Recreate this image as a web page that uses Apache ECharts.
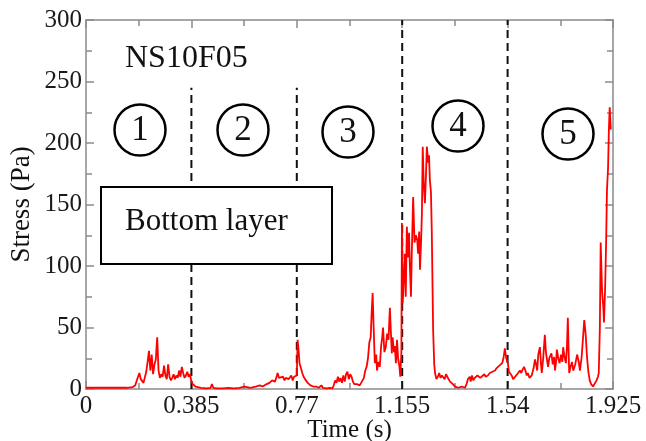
<!DOCTYPE html>
<html>
<head>
<meta charset="utf-8">
<script src="https://cdn.jsdelivr.net/npm/echarts@6/dist/echarts.min.js"></script>
<style>
html,body{margin:0;padding:0;background:#fff;}
#chart{width:646px;height:441px;}
</style>
</head>
<body>
<div id="chart"></div>
<script>
// ---- data ----
const xTickLabels = ['0', '0.385', '0.77', '1.155', '1.54', '1.925'];
const yTickLabels = ['0', '50', '100', '150', '200', '250', '300'];
const phaseBounds = [0.385, 0.77, 1.155, 1.54];
const phaseTops = [245, 245, 300, 300];
const phaseLabels = ['1', '2', '3', '4', '5'];
const sampleName = 'NS10F05';
const layerName = 'Bottom layer';

const time = [
  0, 0.05, 0.10, 0.15, 0.17, 0.18, 0.19, 0.195, 0.20, 0.21, 0.215, 0.22, 0.225, 0.23, 0.235, 0.24, 0.245, 0.25, 0.255, 0.26,
  0.265, 0.27, 0.275, 0.28, 0.285, 0.29, 0.295, 0.30, 0.305, 0.31, 0.315, 0.32, 0.325, 0.33, 0.335, 0.34, 0.345, 0.35, 0.355, 0.36,
  0.365, 0.37, 0.375, 0.38, 0.385,
  0.39, 0.40, 0.42, 0.44, 0.455, 0.46, 0.465, 0.48, 0.50, 0.52, 0.54, 0.56, 0.58, 0.60, 0.62, 0.635, 0.645, 0.66, 0.67, 0.68,
  0.69, 0.695, 0.70, 0.705, 0.71, 0.72, 0.725, 0.73, 0.74, 0.75, 0.755, 0.76, 0.765, 0.77,
  0.773, 0.776, 0.78, 0.785, 0.79, 0.795, 0.80, 0.805, 0.81, 0.82, 0.825, 0.83, 0.835, 0.84, 0.845, 0.85, 0.86, 0.865, 0.87, 0.88,
  0.89, 0.90, 0.905, 0.91, 0.915, 0.92, 0.925, 0.93, 0.935, 0.94, 0.945, 0.95, 0.955, 0.96, 0.965, 0.97, 0.975, 0.98, 0.985, 0.99,
  1.0, 1.005, 1.01, 1.015, 1.02, 1.025, 1.03, 1.035, 1.04, 1.043, 1.047, 1.05, 1.055, 1.06, 1.063, 1.068, 1.073, 1.078, 1.082, 1.085,
  1.09, 1.095, 1.1, 1.105, 1.11, 1.113, 1.117, 1.12, 1.125, 1.128, 1.132, 1.136, 1.14, 1.145, 1.148, 1.152,
  1.154, 1.157, 1.16, 1.165, 1.168, 1.172, 1.176, 1.18, 1.183, 1.187, 1.19, 1.195, 1.2, 1.205, 1.21, 1.213, 1.217, 1.22, 1.224, 1.227,
  1.23, 1.234, 1.238, 1.242, 1.245, 1.25, 1.253, 1.256, 1.26, 1.263, 1.268, 1.272, 1.275, 1.28, 1.285, 1.29, 1.295, 1.3, 1.31, 1.315,
  1.322, 1.33, 1.34, 1.348, 1.355, 1.36, 1.365, 1.373, 1.38, 1.384, 1.39, 1.395, 1.402, 1.405, 1.41, 1.415, 1.42, 1.43, 1.44, 1.446,
  1.455, 1.46, 1.468, 1.475, 1.48, 1.494, 1.50, 1.51, 1.52, 1.525, 1.53, 1.535, 1.541, 1.545,
  1.548, 1.555, 1.56, 1.567, 1.575, 1.58, 1.585, 1.59, 1.595, 1.6, 1.605, 1.61, 1.614, 1.62, 1.628, 1.635, 1.64, 1.645, 1.648, 1.652,
  1.658, 1.662, 1.665, 1.67, 1.676, 1.68, 1.685, 1.688, 1.692, 1.7, 1.705, 1.71, 1.713, 1.717, 1.72, 1.725, 1.73, 1.735, 1.74, 1.743,
  1.748, 1.753, 1.757, 1.76, 1.763, 1.765, 1.77, 1.775, 1.78, 1.787, 1.794, 1.8, 1.804, 1.81, 1.815, 1.82, 1.825, 1.83, 1.835, 1.84,
  1.845, 1.852, 1.858, 1.865, 1.87, 1.873, 1.877, 1.88, 1.885, 1.89, 1.892, 1.896, 1.9, 1.903, 1.907, 1.91, 1.913, 1.917
];
const stress = [
  1, 1, 1, 1, 1.5, 3, 10, 13, 8, 5, 6, 14, 22, 31, 15, 28, 12, 20, 24, 42,
  15, 9, 12, 10, 19, 11, 8, 20, 10, 7, 9, 12, 8, 11, 9, 15, 10, 18, 13, 9,
  11, 14, 10, 12, 6,
  4, 2, 1, 0.5, 1, 4, 1, 0.5, 0.5, 1, 0.5, 1, 2, 1, 2, 3, 2, 4, 5, 7,
  6, 9, 13, 9, 8, 10, 7, 9, 8, 11, 7, 10, 9, 11,
  40, 33, 21, 17, 13, 10, 8, 7, 5, 3, 4, 2, 1, 2, 3, 1, 3, 1, 0.5, 0.5,
  1, 0.5, 3, 7, 5, 10, 6, 9, 5, 11, 6, 12, 14, 8, 12, 10, 6, 4, 3, 4,
  3, 5, 7, 9, 15, 18, 25, 38, 42, 60, 78, 55, 21, 28, 15, 22, 18, 35, 42, 50,
  30, 34, 45, 40, 66, 50, 29, 42, 30, 35, 21, 40, 25, 18, 10, 30,
  135, 70, 85, 110, 75, 132, 107, 127, 100, 75, 110, 156, 119, 125, 121, 110, 128, 97, 120, 143,
  197, 165, 151, 175, 197, 184, 190, 170, 160, 129, 48, 20, 13, 8, 10, 13, 9, 11, 8, 12,
  9, 6, 4, 2, 3, 1, 2, 2, 0.5, 1, 4, 8, 10, 6, 11, 7, 9, 11, 9, 10,
  12, 10, 11, 13, 12, 15, 17, 19, 21, 25, 33, 25, 21, 14,
  13, 11, 8, 9, 12, 11, 15, 13, 16, 18, 15, 11, 13, 9, 11, 17, 24, 19, 15, 28,
  34, 20, 13, 25, 44, 30, 22, 18, 25, 29, 20, 26, 15, 22, 32, 25, 21, 28, 22, 34,
  26, 21, 35, 58, 30, 13, 18, 22, 15, 20, 28, 22, 15, 25, 40, 56, 45, 26, 14, 7,
  4, 2, 3, 7, 10, 13, 50, 119, 80, 65, 54, 80, 121, 162, 180, 211, 229, 211
];

// ---- chart ----
const FONT = "'Liberation Serif', 'Times New Roman', serif";
const AXIS_GRAY = '#8a8a8a';
const grid = { left: 86, right: 33, top: 20, bottom: 52, containLabel: false, outerBoundsMode: 'none' };

const lineData = time.map((t, i) => [t, stress[i]]);

const dashedSeries = phaseBounds.map((b, i) => ({
  type: 'line',
  xAxisIndex: 0, yAxisIndex: 0,
  data: [[b, 0], [b, phaseTops[i]]],
  showSymbol: false, symbol: 'none',
  lineStyle: { color: '#111', width: 2, type: [8, 5] },
  z: 3, silent: true
}));

const xBase = {
  type: 'value', min: 0, max: 1.925, interval: 0.385,
  axisLine: { show: true, onZero: false, lineStyle: { color: AXIS_GRAY, width: 1.5 } },
  axisTick: { show: true, inside: true, length: 8, lineStyle: { color: AXIS_GRAY, width: 1.5 } },
  minorTick: { show: true, splitNumber: 2, length: 6, lineStyle: { color: AXIS_GRAY, width: 1.5 } },
  splitLine: { show: false }
};
const yBase = {
  type: 'value', min: 0, max: 300, interval: 50,
  axisLine: { show: true, onZero: false, lineStyle: { color: AXIS_GRAY, width: 1.5 } },
  axisTick: { show: true, inside: true, length: 8, lineStyle: { color: AXIS_GRAY, width: 1.5 } },
  minorTick: { show: true, splitNumber: 2, length: 6, lineStyle: { color: AXIS_GRAY, width: 1.5 } },
  splitLine: { show: false }
};

const circleCenters = [[140, 130], [243, 130], [348, 132], [458, 126], [568, 134]];
const graphics = [];
phaseLabels.forEach((lab, i) => {
  const [cx, cy] = circleCenters[i];
  graphics.push({ type: 'circle', shape: { cx: cx, cy: cy, r: 25.5 }, style: { fill: 'rgba(0,0,0,0)', stroke: '#000', lineWidth: 2.5 }, z: 100 });
  graphics.push({ type: 'text', x: cx, y: cy + 1, style: { text: lab, font: '35px ' + FONT, fill: '#111', textAlign: 'center', textVerticalAlign: 'middle' }, z: 101 });
});
graphics.push({ type: 'text', x: 125, y: 59, style: { text: sampleName, font: '32px ' + FONT, fill: '#111', textAlign: 'left', textVerticalAlign: 'middle' }, z: 101 });
graphics.push({ type: 'rect', shape: { x: 101, y: 187, width: 231, height: 77 }, style: { fill: '#fff', stroke: '#000', lineWidth: 2 }, z: 100 });
graphics.push({ type: 'text', x: 125, y: 222, style: { text: layerName, font: '31px ' + FONT, fill: '#111', textAlign: 'left', textVerticalAlign: 'middle' }, z: 101 });

const option = {
  animation: false,
  backgroundColor: '#fff',
  grid: grid,
  xAxis: [
    Object.assign({}, xBase, {
      position: 'bottom',
      name: 'Time (s)', nameLocation: 'middle', nameGap: 29, nameMoveOverlap: false,
      nameTextStyle: { fontFamily: FONT, fontSize: 25, color: '#111' },
      axisLabel: {
        show: true, margin: 5, fontFamily: FONT, fontSize: 25, color: '#1a1a1a',
        formatter: v => xTickLabels[Math.round(v / 0.385)]
      }
    }),
    Object.assign({}, xBase, { position: 'top', axisLabel: { show: false } })
  ],
  yAxis: [
    Object.assign({}, yBase, {
      position: 'left',
      name: 'Stress (Pa)', nameLocation: 'middle', nameGap: 51, nameMoveOverlap: false,
      nameTextStyle: { fontFamily: FONT, fontSize: 27, color: '#111' },
      axisLabel: {
        show: true, margin: 4, fontFamily: FONT, fontSize: 25, color: '#1a1a1a',
        formatter: v => yTickLabels[Math.round(v / 50)]
      }
    }),
    Object.assign({}, yBase, { position: 'right', axisLabel: { show: false } })
  ],
  graphic: graphics,
  series: [
    {
      type: 'line', xAxisIndex: 0, yAxisIndex: 0,
      data: lineData, showSymbol: false, symbol: 'none',
      lineStyle: { color: '#ff0000', width: 1.8 }, z: 4
    }
  ].concat(dashedSeries)
};

const chart = echarts.init(document.getElementById('chart'), null, { renderer: 'canvas' });
chart.setOption(option);
</script>
</body>
</html>
